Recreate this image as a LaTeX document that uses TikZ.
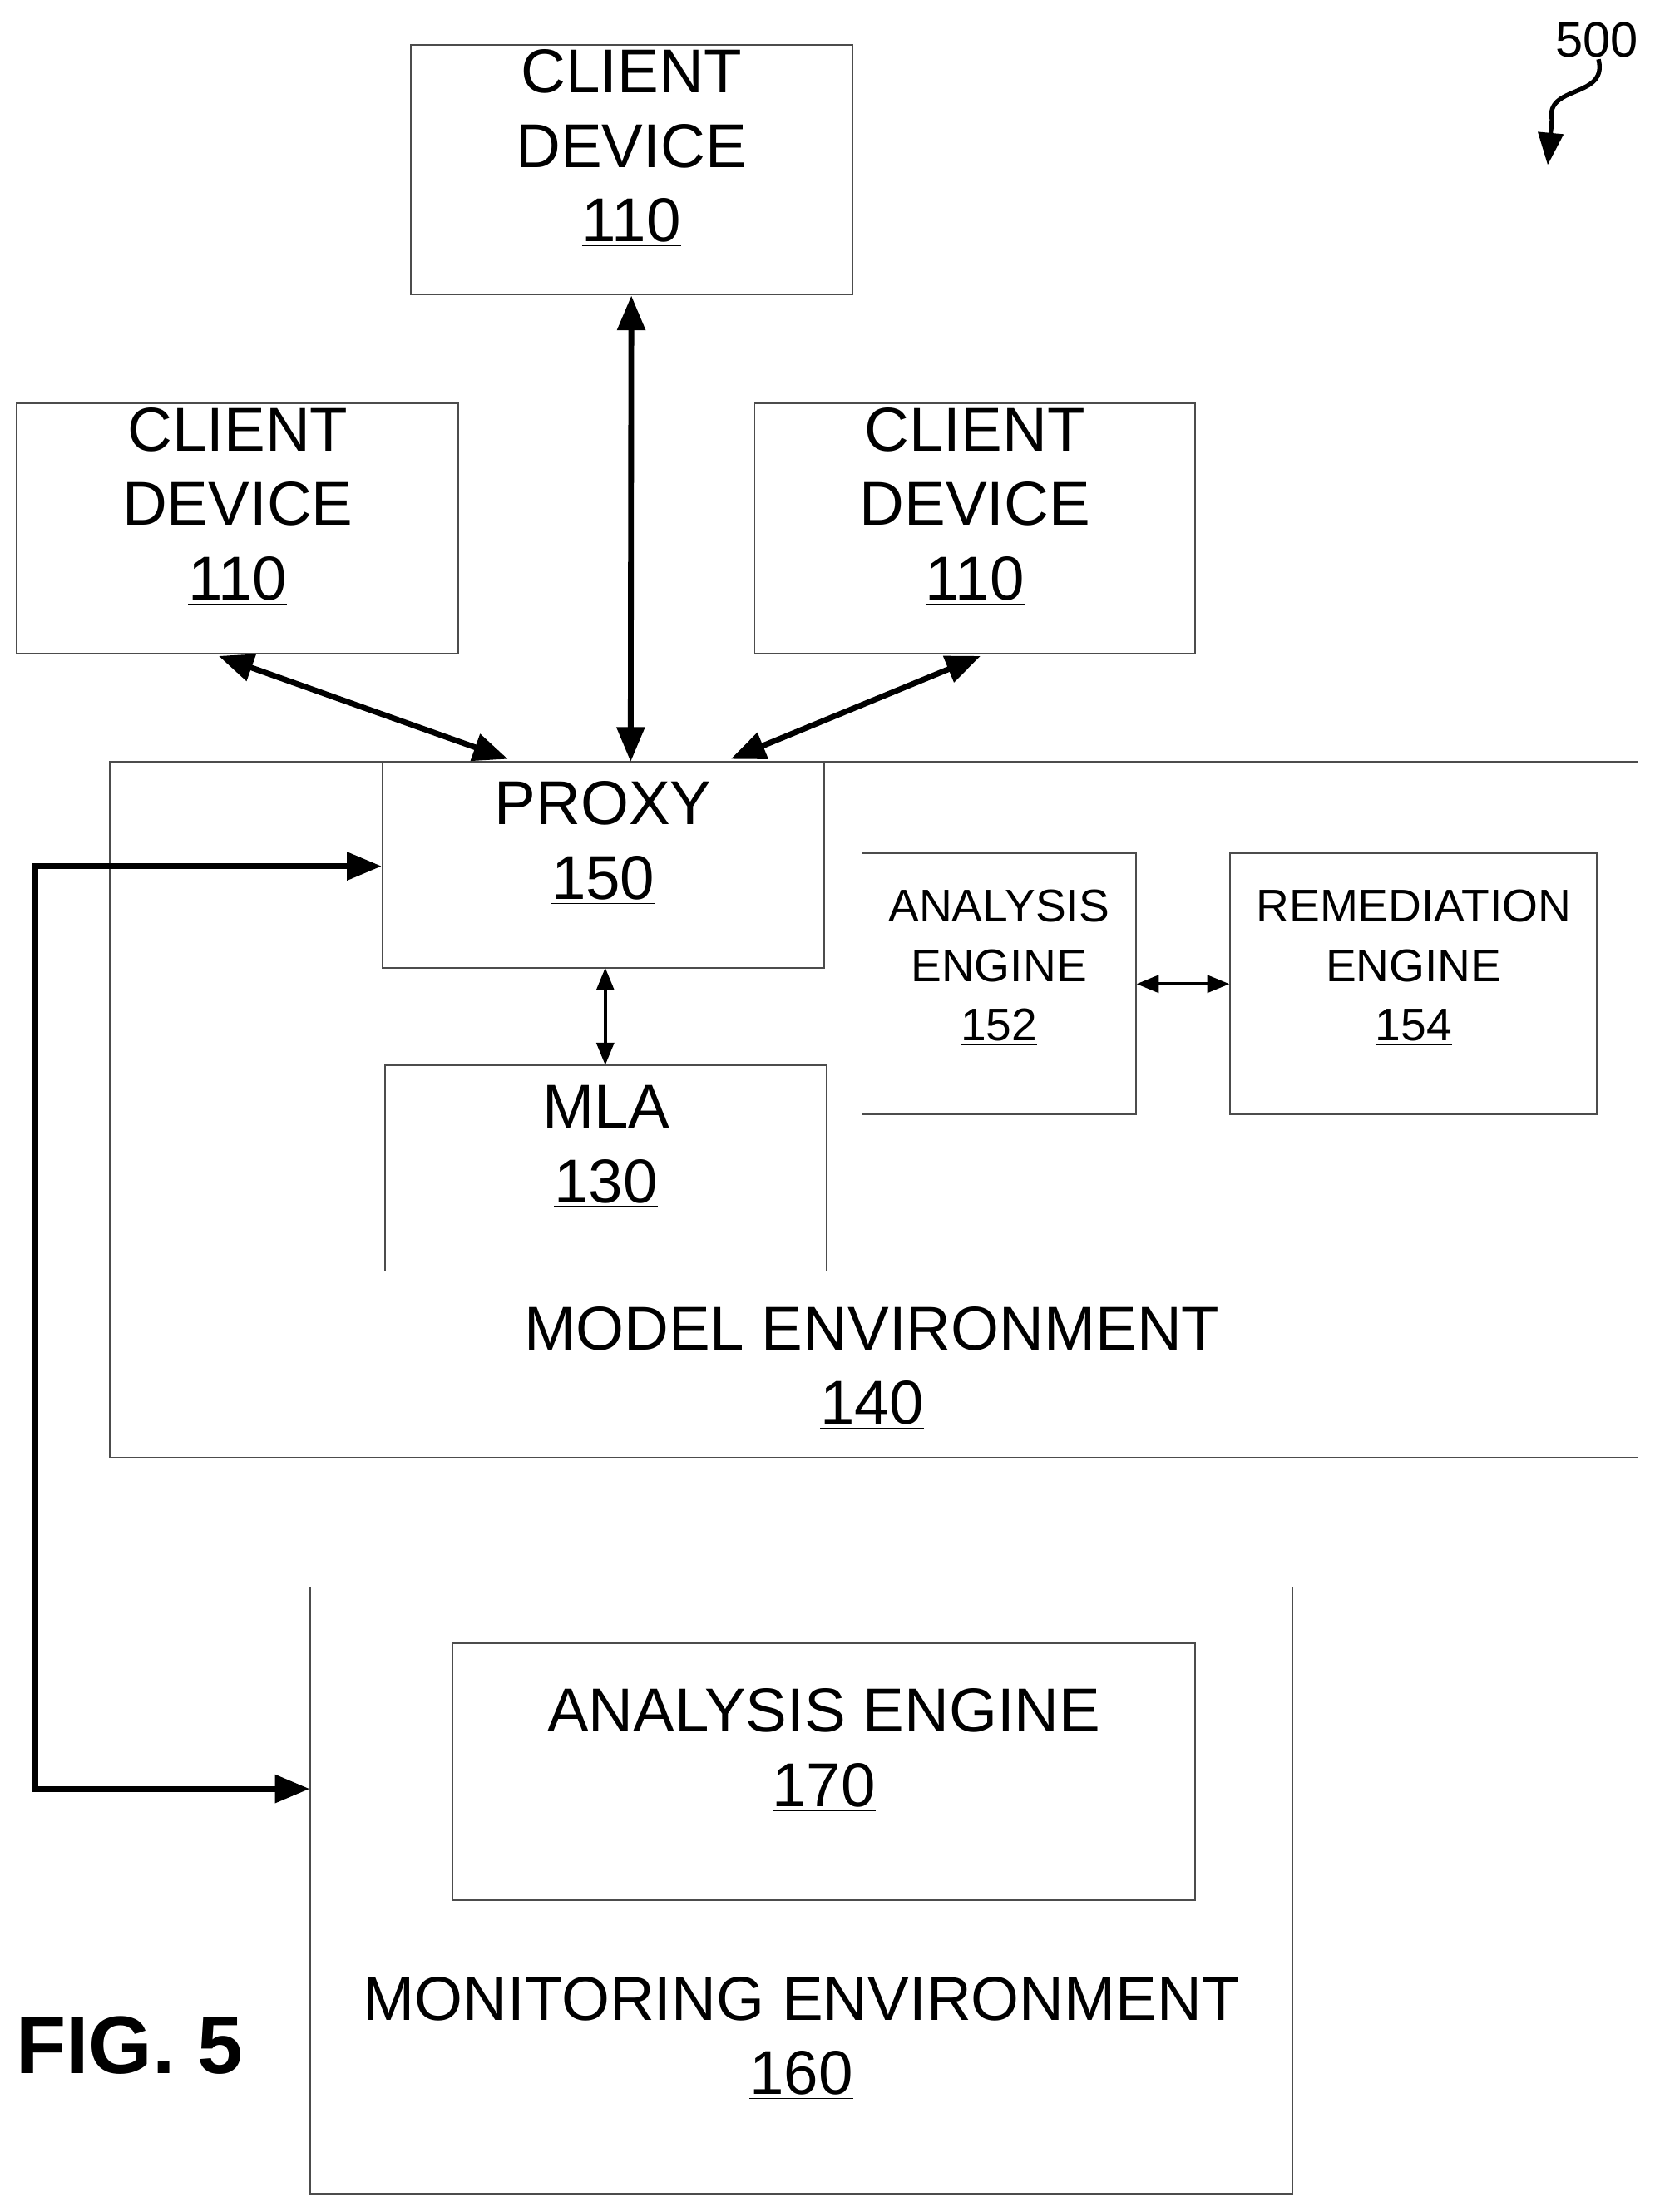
\documentclass[tikz,border=0pt]{standalone}
\usepackage{fontspec}
\setmainfont{Liberation Sans}
\usetikzlibrary{fit,arrows.meta}
\begin{document}
\begin{tikzpicture}[x=0.02cm,y=-0.02cm,
  box/.style={draw=black!70,line width=0.6pt,inner sep=0pt,align=center},
  big/.style={font=\fontsize{25pt}{30pt}\selectfont},
  small/.style={font=\fontsize{18.5pt}{24pt}\selectfont},
  thick2/.style={line width=2.3pt,{Triangle[length=14pt,width=11pt]}-{Triangle[length=14pt,width=11pt]}},
  thin2/.style={line width=1.3pt,{Triangle[length=9pt,width=7pt]}-{Triangle[length=9pt,width=7pt]}}]
\useasboundingbox (0,0) rectangle (1173,1568);
\node[box,big,fit={(291,32)(604,209)}] (c1) {CLIENT\\DEVICE\\\underline{110}};
\node[box,big,fit={(12,286)(325,463)}] (c2) {CLIENT\\DEVICE\\\underline{110}};
\node[box,big,fit={(535,286)(847,463)}] (c3) {CLIENT\\DEVICE\\\underline{110}};
\node[box,fit={(78,540)(1161,1033)}] (me) {};
\node[big,align=center] (melab) at (618,970) {MODEL ENVIRONMENT\\\underline{140}};
\node[box,big,fill=white,fit={(271,540)(584,686)}] (px) {PROXY\\\underline{150}};
\node[box,big,fit={(273,755)(586,901)}] (mla) {MLA\\\underline{130}};
\node[box,small,fit={(611,605)(805,790)}] (ae) {ANALYSIS\\ENGINE\\\underline{152}};
\node[box,small,fit={(872,605)(1132,790)}] (re) {REMEDIATION\\ENGINE\\\underline{154}};
\node[box,fit={(220,1125)(916,1555)}] (mon) {};
\node[big,align=center] (monlab) at (568,1445) {MONITORING ENVIRONMENT\\\underline{160}};
\node[box,big,fit={(321,1165)(847,1347)}] (ae2) {ANALYSIS ENGINE\\\underline{170}};
\node[font=\fontsize{33pt}{36pt}\selectfont\bfseries] (fig) at (92,1450) {FIG. 5};
\node[font=\fontsize{20pt}{22pt}\selectfont] (num) at (1132,28) {500};
\coordinate (s0) at (1133,42);
\coordinate (s1) at (1097,117);
\draw[line width=1.8pt,-{Triangle[length=13pt,width=10pt]}] (s0) .. controls (1140,70) and (1095,60) .. (1100,85) -- (s1);
\draw[thick2] (c1.south) -- (447,540);
\draw[thick2] (155,465) -- (360,538);
\draw[thick2] (695,465) -- (518,538);
\draw[thin2] (429,686) -- (429,755);
\draw[thin2] (ae.east) -- (re.west);
\coordinate (l1) at (25,614);
\coordinate (l2) at (25,1268);
\draw[line width=2.3pt,{Triangle[length=14pt,width=11pt]}-{Triangle[length=14pt,width=11pt]}] (px.west |- l1) -- (l1) -- (l2) -- (mon.west |- l2);
\end{tikzpicture}
\end{document}
